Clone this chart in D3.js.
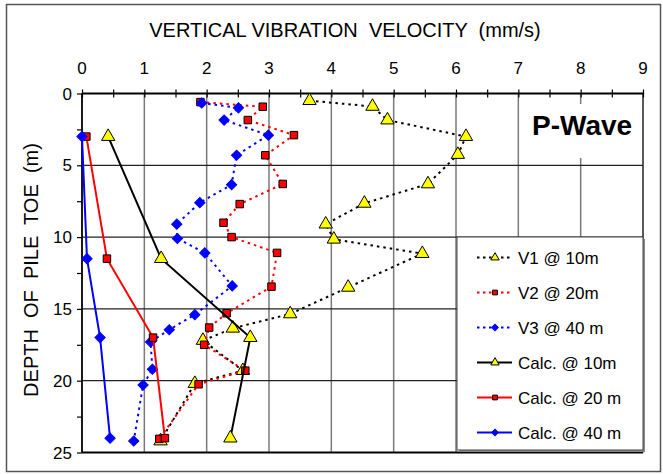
<!DOCTYPE html>
<html>
<head>
<meta charset="utf-8">
<script src="https://cdn.jsdelivr.net/npm/d3@7"></script>
<style>
  html, body { margin: 0; padding: 0; background: #fff; }
  svg text { font-family: Arial, 'Liberation Sans', sans-serif; }
</style>
</head>
<body>
<svg id="chart" width="663" height="474"></svg>
<script>
// measured data (depth in m, velocity in mm/s)
var v1Depth = [0.5, 0.9, 1.85, 3.0, 4.25, 6.3, 7.65, 9.1, 10.15, 11.15, 13.5, 15.35, 16.35, 17.2, 19.3, 20.2, 24.2];
var v1Vel   = [3.65, 4.66, 4.9, 6.16, 6.03, 5.55, 4.53, 3.91, 4.04, 5.46, 4.27, 3.34, 2.42, 1.94, 2.58, 1.81, 1.26];

var v2Depth = [0.6, 0.92, 1.85, 2.9, 4.3, 6.3, 7.7, 9.0, 10.0, 11.1, 13.45, 15.3, 16.3, 17.5, 19.3, 20.25, 24.05];
var v2Vel   = [1.9, 2.9, 2.66, 3.4, 2.94, 3.22, 2.53, 2.27, 2.4, 3.13, 3.04, 2.32, 2.04, 1.96, 2.62, 1.87, 1.24];

var v3Depth = [0.66, 1.0, 1.85, 2.9, 4.3, 6.35, 7.6, 9.1, 10.1, 11.1, 13.4, 15.4, 16.45, 17.3, 19.2, 20.3, 24.2];
var v3Vel   = [1.92, 2.51, 2.28, 2.99, 2.48, 2.4, 1.89, 1.52, 1.53, 1.97, 2.41, 1.81, 1.4, 1.1, 1.13, 0.98, 0.83];

// calculated
var calcDepth  = [3.0, 11.5, 17.0, 24.0];
var calc10Vel  = [0.42, 1.27, 2.7, 2.38];
var calc20Vel  = [0.07, 0.4, 1.14, 1.33];
var calc40Vel  = [0.0, 0.08, 0.29, 0.45];

var xTicks = [0, 1, 2, 3, 4, 5, 6, 7, 8, 9];
var yTicks = [0, 5, 10, 15, 20, 25];

var zip = function (xs, ys) {
    return xs.map(function (x, i) { return { x: x, y: ys[i] }; });
};

var series = [
    { name: 'V1 @ 10m',      data: zip(v1Vel, v1Depth),       color: '#000', dash: '2.5,4', marker: 'triangle', fill: '#ffff00' },
    { name: 'V2 @ 20m',      data: zip(v2Vel, v2Depth),       color: '#ff0000', dash: '2.5,4', marker: 'square', fill: '#ff0000' },
    { name: 'V3 @ 40 m',     data: zip(v3Vel, v3Depth),       color: '#0000ff', dash: '2.5,4', marker: 'diamond', fill: '#0000ff' },
    { name: 'Calc. @ 10m',   data: zip(calc10Vel, calcDepth), color: '#000', dash: null, marker: 'triangle', fill: '#ffff00' },
    { name: 'Calc. @ 20 m',  data: zip(calc20Vel, calcDepth), color: '#ff0000', dash: null, marker: 'square', fill: '#ff0000' },
    { name: 'Calc. @ 40 m',  data: zip(calc40Vel, calcDepth), color: '#0000ff', dash: null, marker: 'diamond', fill: '#0000ff' }
];

var svg = d3.select('#chart');
var plotLeft = 82, plotRight = 643, plotTop = 93.5, plotBottom = 452.5;

var x = d3.scaleLinear().domain([0, 9]).range([plotLeft, plotRight]);
var y = d3.scaleLinear().domain([0, 25]).range([plotTop, plotBottom]);

// outer frame
svg.append('rect')
    .attr('x', 6.5).attr('y', 4.5)
    .attr('width', 654).attr('height', 467)
    .attr('fill', 'none')
    .attr('stroke', '#555')
    .attr('stroke-width', 1.5);

// grid
var grid = svg.append('g');
grid.selectAll('.vgrid')
    .data(d3.range(1, 9))
    .enter().append('line')
    .attr('x1', function (d) { return x(d); })
    .attr('x2', function (d) { return x(d); })
    .attr('y1', plotTop).attr('y2', plotBottom)
    .attr('stroke', '#7a7a7a')
    .attr('stroke-width', 1.5);
grid.selectAll('.hgrid')
    .data([5, 10, 15, 20])
    .enter().append('line')
    .attr('x1', plotLeft).attr('x2', plotRight)
    .attr('y1', function (d) { return y(d); })
    .attr('y2', function (d) { return y(d); })
    .attr('stroke', '#222')
    .attr('stroke-width', 1.2);

// right and bottom border of the plot
svg.append('line').attr('x1', plotRight).attr('x2', plotRight).attr('y1', plotTop).attr('y2', plotBottom)
    .attr('stroke', '#222').attr('stroke-width', 1.5);
svg.append('line').attr('x1', plotLeft).attr('x2', plotRight).attr('y1', plotBottom).attr('y2', plotBottom)
    .attr('stroke', '#000').attr('stroke-width', 1.8);

// P-Wave label with white box
svg.append('rect')
    .attr('x', 525).attr('y', 104)
    .attr('width', 116).attr('height', 54)
    .attr('fill', '#fff');
svg.append('text')
    .attr('x', 532).attr('y', 135)
    .attr('font-size', 28)
    .attr('font-weight', 'bold')
    .text('P-Wave');

// top axis
var xAxis = d3.axisTop(x)
    .tickValues(d3.range(0, 9.01, 0.5))
    .tickSize(4)
    .tickFormat('');
var xAxisG = svg.append('g')
    .attr('transform', 'translate(0,' + plotTop + ')')
    .call(xAxis);
xAxisG.selectAll('.tick line').attr('y2', -4).attr('y1', 4).attr('stroke', '#000').attr('stroke-width', 1.2);
xAxisG.select('.domain').attr('stroke', '#000').attr('stroke-width', 1.8).attr('d', 'M' + plotLeft + ',0H' + plotRight);

svg.selectAll('.xlab')
    .data(xTicks)
    .enter().append('text')
    .attr('x', function (d) { return x(d); })
    .attr('y', 74)
    .attr('text-anchor', 'middle')
    .attr('font-size', 17)
    .text(function (d) { return d; });

// left axis
var yAxis = d3.axisLeft(y)
    .tickValues(d3.range(0, 25.01, 2.5))
    .tickSize(5)
    .tickFormat('');
var yAxisG = svg.append('g')
    .attr('transform', 'translate(' + plotLeft + ',0)')
    .call(yAxis);
yAxisG.selectAll('.tick line').attr('stroke', '#000').attr('stroke-width', 1.2);
yAxisG.select('.domain').attr('stroke', '#000').attr('stroke-width', 1.8).attr('d', 'M0,' + plotTop + 'V' + plotBottom);

svg.selectAll('.ylab')
    .data(yTicks)
    .enter().append('text')
    .attr('x', 72)
    .attr('y', function (d) { return y(d) + 6; })
    .attr('text-anchor', 'end')
    .attr('font-size', 17)
    .text(function (d) { return d; });

// titles
svg.append('text')
    .attr('x', 345).attr('y', 37)
    .attr('text-anchor', 'middle')
    .attr('font-size', 20)
    .style('white-space', 'pre')
    .text('VERTICAL VIBRATION  VELOCITY  (mm/s)');

svg.append('text')
    .attr('transform', 'translate(38,270) rotate(-90)')
    .attr('text-anchor', 'middle')
    .attr('font-size', 20)
    .style('white-space', 'pre')
    .text('DEPTH  OF  PILE  TOE  (m)');

// markers (diamond = square turned 45deg)
var drawMarker = function (sel, s, size) {
    var sym, rot = 0;
    if (s.marker === 'triangle') { sym = d3.symbol().type(d3.symbolTriangle).size(size * 1.1); }
    else if (s.marker === 'square') { sym = d3.symbol().type(d3.symbolSquare).size(size * 0.8); }
    else { sym = d3.symbol().type(d3.symbolSquare).size(size * 0.75); rot = 45; }
    sel.append('path')
        .attr('d', sym)
        .attr('transform', 'rotate(' + rot + ')')
        .attr('fill', s.fill)
        .attr('stroke', s.marker === 'diamond' ? '#0000ff' : '#000')
        .attr('stroke-width', 1);
};

var line = d3.line()
    .x(function (d) { return x(d.x); })
    .y(function (d) { return y(d.y); });

series.forEach(function (s) {
    var g = svg.append('g');
    g.append('path')
        .datum(s.data)
        .attr('d', line)
        .attr('fill', 'none')
        .attr('stroke', s.color)
        .attr('stroke-width', 2)
        .attr('stroke-dasharray', s.dash);
    var pts = g.selectAll('.pt')
        .data(s.data)
        .enter().append('g')
        .attr('transform', function (d) { return 'translate(' + x(d.x) + ',' + y(d.y) + ')'; });
    pts.each(function () { drawMarker(d3.select(this), s, 70); });
});

// legend
var lg = svg.append('g');
lg.append('rect')
    .attr('x', 459).attr('y', 239)
    .attr('width', 186).attr('height', 213)
    .attr('fill', '#888');
lg.append('rect')
    .attr('x', 457).attr('y', 237)
    .attr('width', 186).attr('height', 213)
    .attr('fill', '#fff')
    .attr('stroke', '#444')
    .attr('stroke-width', 1);

var items = lg.selectAll('.item')
    .data(series)
    .enter().append('g')
    .attr('transform', function (d, i) { return 'translate(0,' + (257.5 + i * 35) + ')'; });
items.append('line')
    .attr('x1', 477).attr('x2', 512)
    .attr('stroke', function (d) { return d.color; })
    .attr('stroke-width', 2)
    .attr('stroke-dasharray', function (d) { return d.dash ? '2.5,3.5' : null; });
items.append('g')
    .attr('transform', 'translate(495,0)')
    .each(function (d) { drawMarker(d3.select(this), d, 28); });
items.append('text')
    .attr('x', 518).attr('y', 6)
    .attr('font-size', 17)
    .text(function (d) { return d.name; });
</script>
</body>
</html>
